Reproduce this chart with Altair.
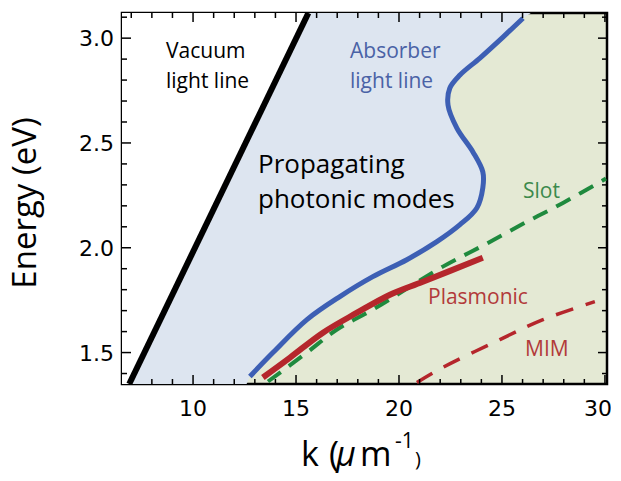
import altair as alt
import pandas as pd

# ---------------- data ----------------
vac_k = [6.9, 15.6]
vac_E = [1.35, 3.12]

abs_k = [12.76, 13.88, 15.53, 17.13, 18.73, 20.38, 21.84, 22.96, 23.78, 24.07,
         24.07, 23.59, 22.81, 22.38, 22.47, 22.96, 23.93, 25.05, 26.02]
abs_E = [1.386, 1.500, 1.657, 1.767, 1.862, 1.943, 2.029, 2.110, 2.190, 2.286,
         2.362, 2.457, 2.571, 2.681, 2.762, 2.824, 2.905, 3.005, 3.095]

# absorber boundary of the shaded region, carried to the frame edges
fill_k = [12.6] + abs_k + [26.4]
fill_E = [1.35] + abs_E + [3.12]

slot_k = [13.64, 15.53, 16.99, 18.73, 22.13, 24.07, 26.02, 27.96, 30.05]
slot_E = [1.362, 1.500, 1.610, 1.705, 1.910, 2.010, 2.114, 2.214, 2.330]

plas_k = [13.39, 14.71, 16.31, 17.96, 19.56, 21.16, 24.07]
plas_E = [1.381, 1.476, 1.595, 1.690, 1.776, 1.838, 1.952]

mim_k = [20.87, 22.13, 24.90, 26.99, 29.51]
mim_E = [1.357, 1.429, 1.562, 1.657, 1.743]

K_RANGE = [6.55, 30.1]
E_RANGE = [1.35, 3.12]

x_major = [10, 15, 20, 25]
x_labels = ["10", "15", "20", "25"]
x_last, x_last_label = 30, "30"
x_minor = [7, 8, 9, 11, 12, 13, 14, 16, 17, 18, 19, 21, 22, 23, 24, 26, 27, 28, 29]
y_major = [1.5, 2.0, 2.5, 3.0]
y_labels = ["1.5", "2.0", "2.5", "3.0"]
y_minor = [1.4, 1.6, 1.7, 1.8, 1.9, 2.1, 2.2, 2.3, 2.4, 2.6, 2.7, 2.8, 2.9, 3.1]

# ---------------- styling ----------------
W, H = 485, 371
FONT = "Open Sans"
TICK_FONT = "DejaVu Sans"
BLUE_FILL = "#dde5f0"
GREEN_FILL = "#e4e9d4"
BLUE = "#3d5fb4"
RED = "#b5262c"
GREEN = "#1f8a3e"

xs = alt.Scale(domain=K_RANGE, nice=False, zero=False)
ys = alt.Scale(domain=E_RANGE, nice=False, zero=False)


def line_df(k, e):
    return pd.DataFrame({"k": k, "E": e, "i": list(range(len(k)))})


# shaded regions
blue_df = pd.DataFrame({"k": fill_k, "E": fill_E, "k0": [K_RANGE[0]] * len(fill_k)})
blue_fill = alt.Chart(blue_df).mark_area(orient="horizontal", color=BLUE_FILL, clip=True).encode(
    y=alt.Y("E:Q", scale=ys, axis=None),
    x=alt.X("k0:Q", scale=xs, axis=None),
    x2="k:Q",
)
white_df = pd.DataFrame({"k": vac_k, "E": vac_E, "k0": [K_RANGE[0]] * len(vac_k)})
white_fill = alt.Chart(white_df).mark_area(orient="horizontal", color="white", clip=True).encode(
    y=alt.Y("E:Q", scale=ys, axis=None),
    x=alt.X("k0:Q", scale=xs, axis=None),
    x2="k:Q",
)


def curve(k, e, **mk):
    return alt.Chart(line_df(k, e)).mark_line(clip=True, strokeCap="butt", **mk).encode(
        x=alt.X("k:Q", scale=xs, axis=None),
        y=alt.Y("E:Q", scale=ys, axis=None),
        order="i:O",
    )


vac_line = curve(vac_k, vac_E, color="black", strokeWidth=6)
abs_line = curve(abs_k, abs_E, color=BLUE, strokeWidth=5, interpolate="catmull-rom")
slot_line = curve(slot_k, slot_E, color=GREEN, strokeWidth=4, strokeDash=[16, 10], interpolate="catmull-rom")
plas_line = curve(plas_k, plas_E, color=RED, strokeWidth=6, interpolate="catmull-rom")
mim_line = curve(mim_k, mim_E, color=RED, strokeWidth=3.5, strokeDash=[18, 13], interpolate="catmull-rom")

# tick labels drawn through the scales
xlab = alt.Chart(pd.DataFrame({"v": x_major, "t": x_labels})).mark_text(
    font=TICK_FONT, fontSize=22, color="black", align="center", baseline="alphabetic").encode(
    x=alt.X("v:Q", scale=xs, axis=None), y=alt.value(H + 32), text="t:N")
# the last label sits at the right page edge: right-aligned so it is not clipped
xlab_last = alt.Chart(pd.DataFrame({"v": [x_last], "t": [x_last_label]})).mark_text(
    font=TICK_FONT, fontSize=22, color="black", align="right", baseline="alphabetic").encode(
    x=alt.value(W + 5), y=alt.value(H + 32), text="t:N")
ylab = alt.Chart(pd.DataFrame({"v": y_major, "t": y_labels})).mark_text(
    font=TICK_FONT, fontSize=22, color="black", align="right", baseline="alphabetic", dy=8).encode(
    y=alt.Y("v:Q", scale=ys, axis=None), x=alt.value(-8), text="t:N")


# inward ticks on all four sides
def xticks(vals, length):
    d = pd.DataFrame({"v": vals})
    bot = alt.Chart(d).mark_rule(color="black", strokeWidth=1.5).encode(
        x=alt.X("v:Q", scale=xs, axis=None), y=alt.value(H), y2=alt.value(H - length))
    top = alt.Chart(d).mark_rule(color="black", strokeWidth=1.5).encode(
        x=alt.X("v:Q", scale=xs, axis=None), y=alt.value(0), y2=alt.value(length))
    return [bot, top]


def yticks(vals, length):
    d = pd.DataFrame({"v": vals})
    left = alt.Chart(d).mark_rule(color="black", strokeWidth=1.5).encode(
        y=alt.Y("v:Q", scale=ys, axis=None), x=alt.value(0), x2=alt.value(length))
    right = alt.Chart(d).mark_rule(color="black", strokeWidth=1.5).encode(
        y=alt.Y("v:Q", scale=ys, axis=None), x=alt.value(W), x2=alt.value(W - length))
    return [left, right]


ticks = (xticks(x_major + [x_last], 9) + xticks(x_minor, 5)
         + yticks(y_major, 9) + yticks(y_minor, 5))

one = pd.DataFrame({"a": [0]})


def label(text, x, y, size=21, color="black", align="left", baseline="middle", angle=0, style="normal"):
    return alt.Chart(one).mark_text(text=text, font=FONT, fontSize=size, color=color, align=align,
                                    baseline=baseline, angle=angle, fontStyle=style).encode(
        x=alt.value(x), y=alt.value(y))


texts = [
    label("Vacuum", 44, 39),
    label("light line", 44, 69),
    label("Absorber", 228, 39, color="#4a62a6"),
    label("light line", 228, 69, color="#4a62a6"),
    label("Propagating", 136, 152, size=26),
    label("photonic modes", 136, 187, size=26),
    label("Slot", 401, 179, color="#3c8a4c"),
    label("Plasmonic", 306, 285, color="#b23a3a"),
    label("MIM", 403, 337, color="#b23a3a"),
    # axis titles
    label("Energy (eV)", -86, 190, size=33, align="center", baseline="alphabetic", angle=270),
    label("k", 179, 453, size=34, baseline="alphabetic"),
    label("(", 207, 453, size=34, baseline="alphabetic"),
    label("\u03bc", 214, 453, size=34, baseline="alphabetic", style="italic"),
    label("m", 238, 453, size=34, baseline="alphabetic"),
    label("-1", 273, 435, size=21, baseline="alphabetic"),
    label(")", 293, 453, size=20, baseline="alphabetic"),
]

chart = alt.layer(
    blue_fill, white_fill,
    slot_line, mim_line, plas_line, abs_line, vac_line,
    *ticks, xlab, xlab_last, ylab, *texts,
).properties(
    width=W, height=H,
    autosize=alt.AutoSizeParams(type="none"),
    padding={"left": 114, "top": 5, "right": 4, "bottom": 89},
).configure_view(
    stroke="black", strokeWidth=2.5, fill=GREEN_FILL,
)

chart.save("out.html", embed_options={"renderer": "svg", "actions": False})
